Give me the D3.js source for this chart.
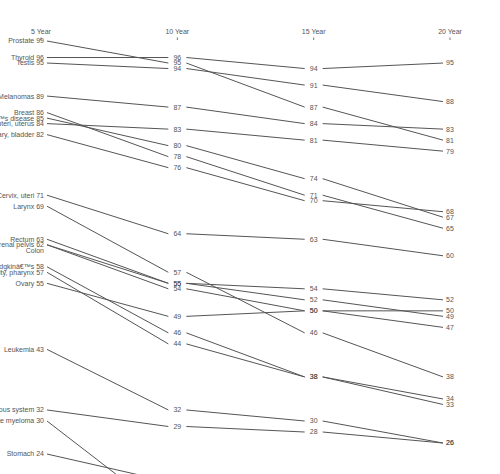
<!DOCTYPE html>
<html>
<head>
<meta charset="utf-8">
<script src="https://cdn.jsdelivr.net/npm/d3@7"></script>
<style>
  html { overflow-y: scroll; }
  body { margin: 0; background: #fff; }
  svg { display: block; }
  text { font-family: "Liberation Sans", Arial, sans-serif; font-size: 7px; fill: #555; }
</style>
</head>
<body>
<script>
const headers = ["5 Year", "10 Year", "15 Year", "20 Year"];
const names = ["Prostate", "Thyroid", "Testis", "Melanomas", "Breast", "Hodgkinâ€™s disease",
  "Corpus uteri, uterus", "Urinary, bladder", "Cervix, uteri", "Larynx", "Rectum",
  "Kidney, renal pelvis", "Colon", "Non-Hodgkinâ€™s", "Oral cavity, pharynx", "Ovary",
  "Leukemia", "Brain, nervous system", "Multiple myeloma", "Stomach", "Lung", "Esophagus",
  "Liver, bile duct", "Pancreas"];
const year5  = [99, 96, 95, 89, 86, 85, 84, 82, 71, 69, 63, 62, 62, 58, 57, 55, 43, 32, 30, 24, 15, 14, 8, 4];
const year10 = [95, 96, 94, 87, 78, 80, 83, 76, 64, 57, 55, 54, 55, 46, 44, 49, 32, 29, 13, 19, 11, 8, 6, 3];
const year15 = [87, 94, 91, 84, 71, 74, 81, 70, 63, 46, 52, 50, 54, 38, 38, 50, 30, 28, 7, 19, 8, 8, 6, 3];
const year20 = [81, 95, 88, 83, 65, 67, 79, 68, 60, 38, 49, 47, 52, 34, 33, 50, 26, 26, 5, 15, 6, 5, 8, 3];

const W = 482, H = 600;
const svg = d3.select("body").append("svg").attr("width", W).attr("height", H);

const y = d3.scaleLinear().domain([100, 0]).range([35.5, 586.2]);
const x = d3.scalePoint().domain(headers).range([41, 450]);
const colX = [44, x(headers[1]), x(headers[2]), 446];

const rows = names.map((n, i) => ({ name: n, vals: [year5[i], year10[i], year15[i], year20[i]] }));

// headers
svg.selectAll("text.hdr").data(headers).join("text")
  .attr("class", "hdr")
  .attr("x", d => x(d)).attr("y", 34)
  .attr("text-anchor", "middle")
  .text(d => d);
svg.selectAll("line.tick").data(headers).join("line")
  .attr("x1", d => x(d)).attr("x2", d => x(d))
  .attr("y1", 37.5).attr("y2", 40)
  .attr("stroke", "#555").attr("stroke-width", 0.8);

// lines
const pad = [[3, 9], [9, 9], [9, 3]];
rows.forEach(r => {
  for (let k = 0; k < 3; k++) {
    svg.append("line")
      .attr("x1", colX[k] + pad[k][0]).attr("y1", y(r.vals[k]))
      .attr("x2", colX[k + 1] - pad[k][1]).attr("y2", y(r.vals[k + 1]))
      .attr("stroke", "#555").attr("stroke-width", 1);
  }
});

// 5-year labels (name + value; a repeated value shows only the name, one line lower)
let prev = null;
rows.forEach(r => {
  const v = r.vals[0];
  const dup = v === prev;
  svg.append("text")
    .attr("x", colX[0]).attr("y", y(v) + (dup ? 6 : 0))
    .attr("dy", "0.35em").attr("text-anchor", "end")
    .text(dup ? r.name : r.name + " " + v);
  prev = v;
});

// middle columns and last column values
rows.forEach(r => {
  [1, 2].forEach(k => {
    svg.append("text")
      .attr("x", colX[k]).attr("y", y(r.vals[k]))
      .attr("dy", "0.35em").attr("text-anchor", "middle")
      .text(r.vals[k]);
  });
  svg.append("text")
    .attr("x", colX[3]).attr("y", y(r.vals[3]))
    .attr("dy", "0.35em").attr("text-anchor", "start")
    .text(r.vals[3]);
});
</script>
</body>
</html>
